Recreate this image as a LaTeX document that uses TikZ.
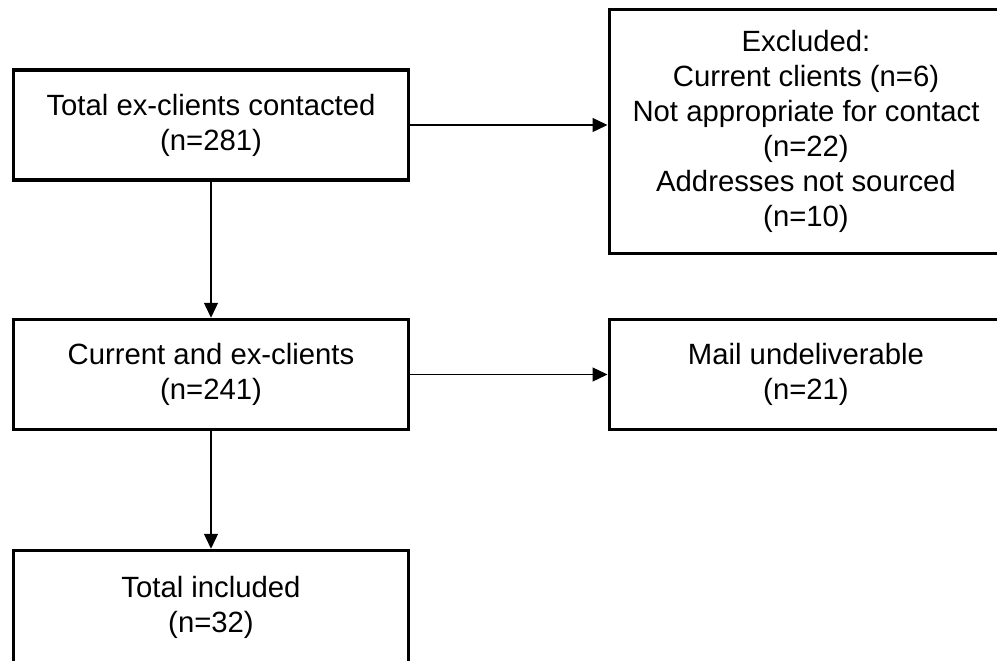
\documentclass[tikz,border=0pt]{standalone}
\usepackage{fontspec}
\setmainfont{Liberation Sans}
\usetikzlibrary{arrows.meta}
\begin{document}
\begin{tikzpicture}[x=1pt,y=-1pt,
  box/.style={draw=black, line width=3.5pt, fill=white, inner sep=0pt,
    minimum width=395pt, minimum height=110pt, align=center,
    font=\fontsize{29.3}{35}\selectfont},
  conn/.style={draw=black, line width=1.4pt, -{Triangle[length=15pt,width=14pt]}}]
\useasboundingbox (0,0) rectangle (997,661);
\clip (0,0) rectangle (997,661);
\fill[white] (0,0) rectangle (997,661);
\node[box] (b1) at (211,125) {Total ex-clients contacted\\(n=281)};
\node[box] (b2) at (211,374.5) {Current and ex-clients\\(n=241)};
\node[box, minimum height=114pt] (b3) at (211,607.5) {Total included\\(n=32)};
\node[box, minimum width=393.5pt, minimum height=244pt] (ex) at (806,131.5)
  {Excluded:\\Current clients (n=6)\\Not appropriate for contact\\(n=22)\\Addresses not sourced\\(n=10)};
\node[box, minimum width=393.5pt] (mail) at (806,374.5) {Mail undeliverable\\(n=21)};
\draw[conn] (b1.east) -- (b1.east -| ex.west);
\draw[conn] (b2.east) -- (mail.west);
\draw[conn] (b1.south) -- (b2.north);
\draw[conn] (b2.south) -- (b3.north);
\end{tikzpicture}
\end{document}
